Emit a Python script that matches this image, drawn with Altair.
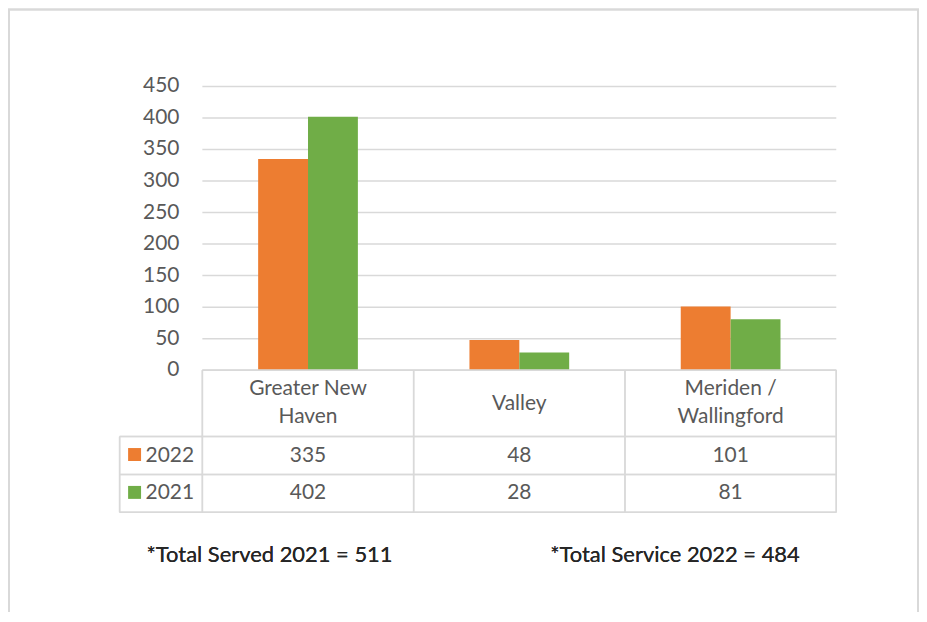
import altair as alt
import pandas as pd

# ---- data ----
categories = ["Greater New Haven", "Valley", "Meriden / Wallingford"]
category_labels = ["Greater New\nHaven", "Valley", "Meriden /\nWallingford"]
years = ["2022", "2021"]
values_2022 = [335, 48, 101]
values_2021 = [402, 28, 81]
y_ticks = [0, 50, 100, 150, 200, 250, 300, 350, 400, 450]
notes = ["*Total Served 2021 = 511", "*Total Service 2022 = 484"]
year_colors = ["#ED7D31", "#70AD47"]

bars = pd.DataFrame({
    "category": categories * 2,
    "year": ["2022"] * 3 + ["2021"] * 3,
    "value": values_2022 + values_2021,
})
cats = pd.DataFrame({"category": categories, "label": category_labels})
ticks = pd.DataFrame({"value": y_ticks})
yrs = pd.DataFrame({"year": years})

# ---- layout (chart pixel coordinates) ----
W, H = 914, 605
X0, X1 = 195, 831          # plot area left/right
Y_ZERO, Y_TOP = 362.4, 77.7  # y of 0 and of 450
ROW_CAT_BOTTOM, ROW1_BOTTOM, ROW2_BOTTOM = 429, 467, 505
TABLE_LEFT = 112
GRID = "#d9d9d9"
TXT = "#595959"
FONT = "Lato"
FS = 21

xenc = alt.X("category:N", sort=categories,
             scale=alt.Scale(domain=categories, range=[X0, X1],
                             paddingInner=0.528, paddingOuter=0.264),
             axis=None)
yscale = alt.Scale(domain=[0, 450], range=[Y_ZERO, Y_TOP], nice=False, zero=True)
cenc = alt.Color("year:N", scale=alt.Scale(domain=years, range=year_colors), legend=None)

layers = []

def hline(y, x0, x1, width=1.5):
    return alt.Chart(yrs).mark_rule(color=GRID, strokeWidth=width).encode(
        x=alt.value(x0), x2=alt.value(x1), y=alt.value(y))

def vline(x, y0, y1, width=1.5):
    return alt.Chart(yrs).mark_rule(color=GRID, strokeWidth=width).encode(
        x=alt.value(x), y=alt.value(y0), y2=alt.value(y1))

# outer frame (top, left, right; bottom lies below the window)
layers.append(hline(0.5, 0, W, 2))
layers.append(vline(1, 0, H, 2))
layers.append(vline(W - 1, 0, H, 2))

# gridlines
layers.append(
    alt.Chart(ticks).mark_rule(color=GRID, strokeWidth=1.5).encode(
        y=alt.Y("value:Q", scale=yscale, axis=None),
        x=alt.value(X0), x2=alt.value(X1))
)

# y labels
layers.append(
    alt.Chart(ticks).mark_text(align="right", baseline="middle", font=FONT,
                               fontSize=FS, color=TXT).encode(
        y=alt.Y("value:Q", scale=yscale, axis=None),
        x=alt.value(172), text="value:Q")
)

# bars
layers.append(
    alt.Chart(bars).mark_bar().encode(
        x=xenc,
        xOffset=alt.XOffset("year:N", sort=years,
                            scale=alt.Scale(domain=years, paddingInner=0, paddingOuter=0)),
        y=alt.Y("value:Q", scale=yscale, axis=None),
        color=cenc)
)

# table borders
step = (X1 - X0) / 3
layers.append(hline(Y_ZERO, X0, X1))
for yy in [ROW_CAT_BOTTOM, ROW1_BOTTOM, ROW2_BOTTOM]:
    layers.append(hline(yy, TABLE_LEFT, X1))
layers.append(vline(TABLE_LEFT, ROW_CAT_BOTTOM, ROW2_BOTTOM))
for k in range(4):
    layers.append(vline(X0 + k * step, Y_ZERO, ROW2_BOTTOM))

# category labels (two-line ones start one line higher)
cats_two = cats[cats["label"].str.contains("\n")]
cats_one = cats[~cats["label"].str.contains("\n")]
layers.append(
    alt.Chart(cats_two).mark_text(align="center", baseline="middle", lineBreak="\n",
                                  lineHeight=28, font=FONT, fontSize=FS, color=TXT).encode(
        x=xenc, y=alt.value(381), text="label:N")
)
layers.append(
    alt.Chart(cats_one).mark_text(align="center", baseline="middle",
                                  font=FONT, fontSize=FS, color=TXT).encode(
        x=xenc, y=alt.value(396), text="label:N")
)

# table values, legend keys, row labels
row_y = {"2022": 448, "2021": 486}
for yr in years:
    layers.append(
        alt.Chart(bars).transform_filter(alt.datum.year == yr).mark_text(
            align="center", baseline="middle", font=FONT, fontSize=FS, color=TXT).encode(
            x=xenc, y=alt.value(row_y[yr]), text="value:Q")
    )
    layers.append(
        alt.Chart(yrs).transform_filter(alt.datum.year == yr).mark_square(
            size=169, opacity=1).encode(
            x=alt.value(127), y=alt.value(row_y[yr] - 1), color=cenc)
    )
    layers.append(
        alt.Chart(yrs).transform_filter(alt.datum.year == yr).mark_text(
            align="left", baseline="middle", font=FONT, fontSize=FS, color=TXT).encode(
            x=alt.value(138), y=alt.value(row_y[yr]), text="year:N")
    )

# footnotes
for note, xpos in zip(notes, [139, 544]):
    layers.append(
        alt.Chart(yrs).mark_text(align="left", baseline="middle", font=FONT, fontSize=22,
                                 fontWeight=400, color="#262626", text=note).encode(
            x=alt.value(xpos), y=alt.value(548))
    )

chart = alt.layer(*layers).properties(
    width=W, height=H,
    autosize=alt.AutoSizeParams(type="none"),
    padding=0,
    background="white",
).configure_view(strokeWidth=0)

chart.save("out.html", embed_options={"renderer": "svg", "actions": False})
